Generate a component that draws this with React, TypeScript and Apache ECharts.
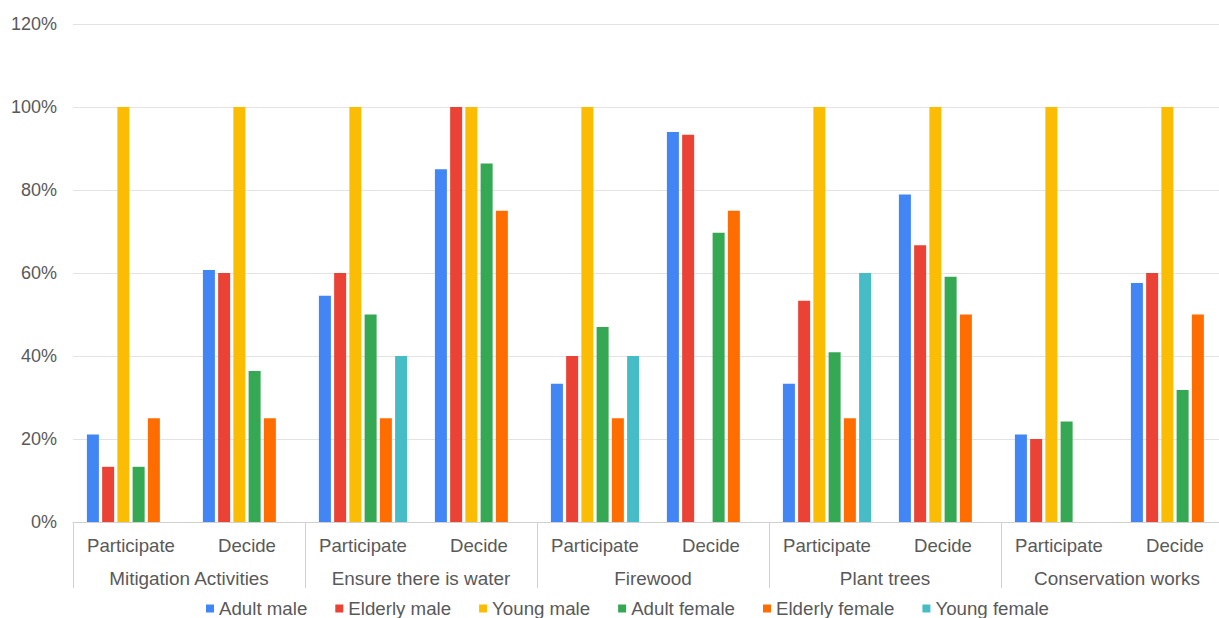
import React, { useEffect, useRef } from "react";
import * as echarts from "echarts";

const groups = ["Mitigation Activities", "Ensure there is water", "Firewood", "Plant trees", "Conservation works"];
const categories = ["Participate", "Decide", "Participate", "Decide", "Participate", "Decide", "Participate", "Decide", "Participate", "Decide"];
const yTicks = [0, 20, 40, 60, 80, 100, 120];

const adultMale = [21.1, 60.7, 54.5, 85, 33.3, 94, 33.3, 78.9, 21.1, 57.6];
const elderlyMale = [13.3, 60, 60, 100, 40, 93.3, 53.3, 66.7, 20, 60];
const youngMale = [100, 100, 100, 100, 100, null, 100, 100, 100, 100];
const adultFemale = [13.3, 36.4, 50, 86.4, 47, 69.7, 40.9, 59.1, 24.2, 31.8];
const elderlyFemale = [25, 25, 25, 75, 25, 75, 25, 50, null, 50];
const youngFemale = [null, null, 40, null, 40, null, 60, null, null, null];

const seriesDefs = [
  { name: "Adult male", data: adultMale, color: "#4285F4" },
  { name: "Elderly male", data: elderlyMale, color: "#EA4335" },
  { name: "Young male", data: youngMale, color: "#FBBC04" },
  { name: "Adult female", data: adultFemale, color: "#34A853" },
  { name: "Elderly female", data: elderlyFemale, color: "#FF6D01" },
  { name: "Young female", data: youngFemale, color: "#46BDC6" },
];

const FONT = "Arial, 'Liberation Sans', sans-serif";
const TXT = "#595959";

export default function App() {
  const ref = useRef<HTMLDivElement>(null);
  useEffect(() => {
    if (!ref.current) return;
    const chart = echarts.init(ref.current, undefined, { renderer: "svg" });
    chart.setOption({
      animation: false,
      backgroundColor: "#ffffff",
      textStyle: { fontFamily: FONT },
      grid: { left: 73, right: 7, top: 24, bottom: 96, containLabel: false },
      legend: {
        left: 206,
        top: 599,
        padding: 0,
        icon: "rect",
        itemWidth: 8,
        itemHeight: 8,
        itemGap: 28,
        textStyle: { fontSize: 18.7, color: TXT, fontFamily: FONT },
        data: seriesDefs.map((s) => s.name),
      },
      xAxis: [
        {
          type: "category",
          data: categories,
          position: "bottom",
          axisLine: { show: true, lineStyle: { color: "#d0d0d0", width: 1 } },
          axisTick: { show: false },
          axisLabel: { margin: 14, fontSize: 18.6, color: TXT, fontFamily: FONT, interval: 0 },
        },
        {
          type: "category",
          data: groups,
          position: "bottom",
          offset: 0,
          axisLine: { show: false },
          axisTick: { show: true, length: 66, lineStyle: { color: "#d0d0d0", width: 1 } },
          axisLabel: { margin: 47, fontSize: 18.9, color: TXT, fontFamily: FONT, interval: 0 },
        },
      ],
      yAxis: {
        type: "value",
        min: yTicks[0],
        max: yTicks[yTicks.length - 1],
        interval: 20,
        axisLine: { show: false },
        axisTick: { show: false },
        splitLine: { lineStyle: { color: "#e3e3e3", width: 1 } },
        axisLabel: { formatter: "{value}%", margin: 16, fontSize: 18, color: TXT, fontFamily: FONT },
      },
      series: seriesDefs.map((s) => ({
        name: s.name,
        type: "bar",
        xAxisIndex: 0,
        data: s.data.map((v) => (v === null ? "-" : v)),
        barWidth: 12,
        barGap: "27%",
        itemStyle: { color: s.color },
      })),
    });
    return () => chart.dispose();
  }, []);
  return (
    <div style={{ position: "absolute", left: 0, top: 0, width: 1219, height: 618, overflow: "hidden" }}>
      <div ref={ref} style={{ width: 1240, height: 618 }} />
    </div>
  );
}
